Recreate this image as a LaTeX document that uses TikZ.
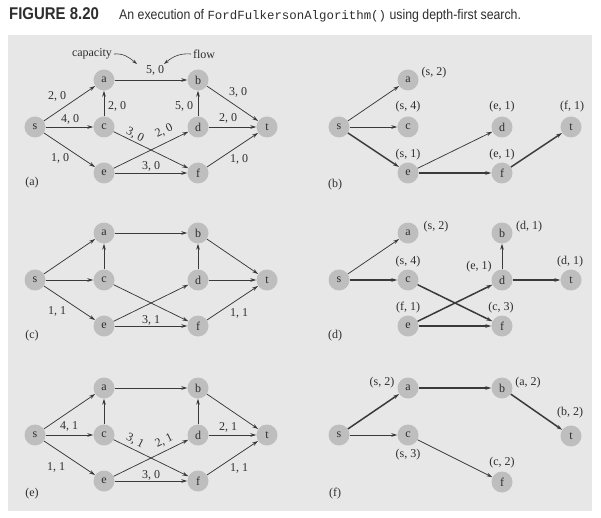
\documentclass[tikz,border=0pt]{standalone}
\usepackage{fontspec}
\setmainfont{Liberation Serif}
\newfontfamily\capfont[FakeStretch=0.88]{Liberation Sans}
\newfontfamily\monof{Liberation Mono}
\usetikzlibrary{arrows.meta}
\definecolor{bggray}{HTML}{E7E7E8}
\definecolor{nodegray}{HTML}{BEBEBE}
\definecolor{edgecol}{HTML}{3A3A3A}
\definecolor{txtcol}{HTML}{2E2E2E}
\tikzset{
 vert/.style={circle, fill=nodegray, minimum size=21pt, inner sep=0pt, text=txtcol, font=\fontsize{12}{12}\selectfont},
 arr/.style={draw=edgecol, line width=0.75pt, -{Stealth[length=6pt,width=3.6pt]}},
 arrb/.style={arr, line width=1.5pt},
 lbl/.style={text=txtcol, inner sep=0pt, font=\fontsize{12}{12}\selectfont},
 curvarr/.style={draw=edgecol, line width=0.6pt, -{Stealth[length=5pt,width=3.2pt]}},
}
\newcommand\fullvertices[1]{%
 \node[vert] (#1s) at (35,127) {s};
 \node[vert] (#1a) at (104,80) {a};
 \node[vert] (#1c) at (104,127) {c};
 \node[vert] (#1e) at (104,173) {e};
 \node[vert] (#1b) at (198,80) {b};
 \node[vert] (#1d) at (198,127) {d};
 \node[vert] (#1f) at (198,173) {f};
 \node[vert] (#1t) at (267,127) {t};
 \draw[arr] (#1s) -- (#1a);
 \draw[arr] (#1s) -- (#1c);
 \draw[arr] (#1s) -- (#1e);
 \draw[arr] (#1c) -- (#1a);
 \draw[arr] (#1a) -- (#1b);
 \draw[arr] (#1c) -- (#1f);
 \draw[arr] (#1e) -- (#1d);
 \draw[arr] (#1e) -- (#1f);
 \draw[arr] (#1d) -- (#1b);
 \draw[arr] (#1d) -- (#1t);
 \draw[arr] (#1b) -- (#1t);
 \draw[arr] (#1f) -- (#1t);
}
\begin{document}
\begin{tikzpicture}[x=1pt,y=-1pt]
\useasboundingbox (0,0) rectangle (601,518);
\fill[white] (0,0) rectangle (601,518);
\fill[bggray] (8,35) rectangle (592,511);

% title
\node[anchor=base west, inner sep=0pt, text=txtcol, font=\capfont\bfseries\fontsize{17}{17}\selectfont] (fig) at (9,20) {FIGURE 8.20};
\node[anchor=base west, inner sep=0pt, text=txtcol, font=\capfont\fontsize{14}{14}\selectfont] (cap) at (119,20) {An execution of {\monof\fontsize{12.4}{12}\selectfont FordFulkersonAlgorithm()} using depth-first search.};

% ---------- (a)
\begin{scope}
\fullvertices{A}
\node[lbl] (Al1) at (155,70) {5, 0};
\node[lbl] (Al2) at (57,96) {2, 0};
\node[lbl] (Al3) at (70,119) {4, 0};
\node[lbl] (Al4) at (117,106) {2, 0};
\node[lbl] (Al5) at (60,158) {1, 0};
\node[lbl, rotate=-26] (Al6) at (135,135) {3, 0};
\node[lbl, rotate=26] (Al7) at (164,131) {2, 0};
\node[lbl] (Al8) at (184,106) {5, 0};
\node[lbl] (Al9) at (238,92) {3, 0};
\node[lbl] (Al10) at (228,118) {2, 0};
\node[lbl] (Al11) at (151,166) {3, 0};
\node[lbl] (Al12) at (239,159) {1, 0};
\node[lbl] (Acap) at (92,54) {capacity};
\node[lbl] (Aflow) at (204,54) {flow};
\coordinate (Acapend) at (137,64);
\coordinate (Aflowend) at (164,64);
\draw[curvarr] ([xshift=2pt]Acap.east) to[out=5,in=140] (Acapend);
\draw[curvarr] ([xshift=-2pt]Aflow.west) to[out=175,in=40] (Aflowend);
\node[lbl] (Atag) at (32,183) {(a)};
\end{scope}

% ---------- (c)
\begin{scope}[shift={(0,153)}]
\fullvertices{C}
\node[lbl] (Cl1) at (57,158) {1, 1};
\node[lbl] (Cl2) at (151,167) {3, 1};
\node[lbl] (Cl3) at (239,160) {1, 1};
\node[lbl] (Ctag) at (32,183) {(c)};
\end{scope}

% ---------- (e)
\begin{scope}[shift={(0,308)}]
\fullvertices{E}
\node[lbl] (El1) at (69,118) {4, 1};
\node[lbl] (El2) at (56,159) {1, 1};
\node[lbl, rotate=-26] (El3) at (135,133) {3, 1};
\node[lbl, rotate=26] (El4) at (164,133) {2, 1};
\node[lbl] (El5) at (151,167) {3, 0};
\node[lbl] (El6) at (228,119) {2, 1};
\node[lbl] (El7) at (239,160) {1, 1};
\node[lbl] (Etag) at (32,186) {(e)};
\end{scope}

% ---------- (b)
\begin{scope}[shift={(304,0)}]
\node[vert] (Bs) at (35,127) {s};
\node[vert] (Ba) at (104,80) {a};
\node[vert] (Bc) at (104,127) {c};
\node[vert] (Be) at (104,173) {e};
\node[vert] (Bd) at (198,127) {d};
\node[vert] (Bf) at (198,173) {f};
\node[vert] (Bt) at (267,127) {t};
\draw[arr] (Bs) -- (Ba);
\draw[arr] (Bs) -- (Bc);
\draw[arrb] (Bs) -- (Be);
\draw[arr] (Be) -- (Bd);
\draw[arrb] (Be) -- (Bf);
\draw[arrb] (Bf) -- (Bt);
\node[lbl] (Bl1) at (130,73) {(s, 2)};
\node[lbl] (Bl2) at (104,107) {(s, 4)};
\node[lbl] (Bl3) at (198,107) {(e, 1)};
\node[lbl] (Bl4) at (268,107) {(f, 1)};
\node[lbl] (Bl5) at (104,155) {(s, 1)};
\node[lbl] (Bl6) at (198,155) {(e, 1)};
\node[lbl] (Btag) at (31,185) {(b)};
\end{scope}

% ---------- (d)
\begin{scope}[shift={(304,153)}]
\node[vert] (Ds) at (35,127) {s};
\node[vert] (Da) at (104,80) {a};
\node[vert] (Dc) at (104,127) {c};
\node[vert] (De) at (104,173) {e};
\node[vert] (Db) at (198,80) {b};
\node[vert] (Dd) at (198,127) {d};
\node[vert] (Df) at (198,173) {f};
\node[vert] (Dt) at (267,127) {t};
\draw[arr] (Ds) -- (Da);
\draw[arrb] (Ds) -- (Dc);
\draw[arrb] (Dc) -- (Df);
\draw[arrb] (De) -- (Dd);
\draw[arrb] (De) -- (Df);
\draw[arr] (Dd) -- (Db);
\draw[arrb] (Dd) -- (Dt);
\node[lbl] (Dl1) at (132,74) {(s, 2)};
\node[lbl] (Dl2) at (104,109) {(s, 4)};
\node[lbl] (Dl3) at (225,74) {(d, 1)};
\node[lbl] (Dl4) at (175,114) {(e, 1)};
\node[lbl] (Dl5) at (266,109) {(d, 1)};
\node[lbl] (Dl6) at (104,155) {(f, 1)};
\node[lbl] (Dl7) at (197,155) {(c, 3)};
\node[lbl] (Dtag) at (31,183) {(d)};
\end{scope}

% ---------- (f)
\begin{scope}[shift={(304,308)}]
\node[vert] (Fs) at (35,127) {s};
\node[vert] (Fa) at (104,80) {a};
\node[vert] (Fc) at (104,127) {c};
\node[vert] (Fb) at (198,80) {b};
\node[vert] (Ff) at (198,174) {f};
\node[vert] (Ft) at (267,128) {t};
\draw[arrb] (Fs) -- (Fa);
\draw[arrb] (Fa) -- (Fb);
\draw[arrb] (Fb) -- (Ft);
\draw[arr] (Fs) -- (Fc);
\draw[arr] (Fc) -- (Ff);
\node[lbl] (Fl1) at (78,75) {(s, 2)};
\node[lbl] (Fl2) at (224,75) {(a, 2)};
\node[lbl] (Fl3) at (266,105) {(b, 2)};
\node[lbl] (Fl4) at (104,147) {(s, 3)};
\node[lbl] (Fl5) at (198,155) {(c, 2)};
\node[lbl] (Ftag) at (31,186) {(f)};
\end{scope}
\end{tikzpicture}
\end{document}
